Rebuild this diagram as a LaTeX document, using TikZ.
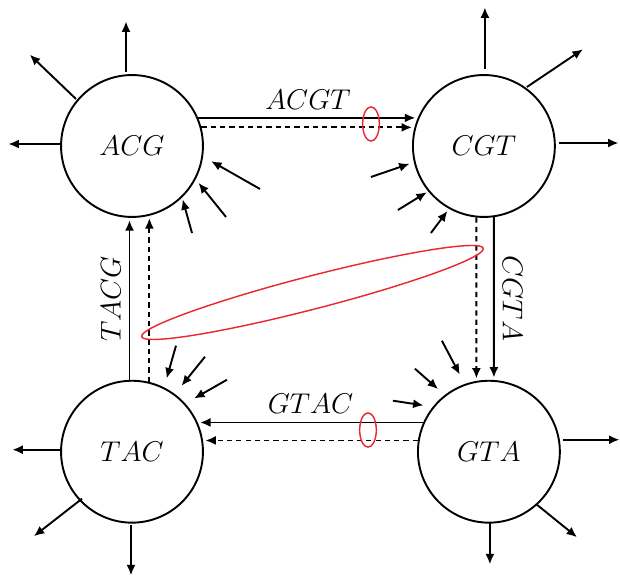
\documentclass[tikz,border=0pt]{standalone}
\usepackage{tikz}
\usetikzlibrary{positioning}
\usetikzlibrary{arrows.meta}
\usetikzlibrary{automata}
\usetikzlibrary{shapes.geometric}

\definecolor{cutred}{RGB}{232,40,48}

\begin{document}
\begin{tikzpicture}[
            x = 0.42pt, y = -0.42pt, % one unit per pixel, y downwards
            > = {Latex[length=4.4pt,width=3.8pt]}, % arrow head style
            shorten > = 1pt, % don't touch arrow head to node
            thick, % line style
            font = \large
            ]

        \tikzstyle{every state}=[
            draw,
            thick,
            fill = white,
            inner sep = 0pt,
            minimum size = 59.6pt
        ]
        \tikzstyle{cut}=[
            draw = cutred,
            ellipse,
            line width = 0.6pt,
            inner sep = 0pt
        ]
        \tikzstyle{back}=[dash pattern = on 2.2pt off 1.7pt]

    \useasboundingbox (0,0) rectangle (620,577);

	% k-mer level
	\node[state] (ACG) at (132,146) {$ACG$};
	\node[state] (CGT) [right = 87.4pt of ACG] {$CGT$};
	\node[state] (TAC) [below = 68pt of ACG] {$TAC$};
	\node[state] (GTA) [right = 89.5pt of TAC] {$GTA$};

	% cycle edges
	\path[->] (ACG.23) edge node[above] {$ACGT$} (CGT.157);
	\path[->,back] (ACG.15) edge node {} (CGT.165);

	\path[->] (CGT.-82) edge node[above, rotate=-90] {$CGTA$} (GTA.86);
	\path[->,back] (CGT.-96) edge node {} (GTA.100);

	\path[->] (GTA.156) edge node[above] {$GTAC$} (TAC.24);
	\path[->,back] (GTA.171) edge node {} (TAC.9);

	\path[->] (TAC.92) edge node[above, rotate=90] {$TACG$} (ACG.-92);
	\path[->,back] (TAC.76) edge node {} (ACG.-76);

	% stubs
	\draw[->] (ACG) ++(-6,-74) -- ++(0,-53);
	\draw[->] (ACG) ++(-56,-47) -- ++(-48,-46);
	\draw[->] (ACG) ++(-70,-2) -- ++(-56,0);
	\draw[->] (ACG) ++(128,43) -- ++(-51,-29);
	\draw[->] (ACG) ++(94,71) -- ++(-29,-36);
	\draw[->] (ACG) ++(60,87) -- ++(-10,-36);

	\draw[->] (CGT) ++(1,-77) -- ++(0,-64);
	\draw[->] (CGT) ++(43,-59) -- ++(58,-39);
	\draw[->] (CGT) ++(75,-3) -- ++(62,0);
	\draw[->] (CGT) ++(-113,31) -- ++(41,-14);
	\draw[->] (CGT) ++(-86,64) -- ++(31,-19);
	\draw[->] (CGT) ++(-53,87) -- ++(18,-24);

	\draw[->] (TAC) ++(-70,-2) -- ++(-52,0);
	\draw[->] (TAC) ++(-50,47) -- ++(-50,39);
	\draw[->] (TAC) ++(-1,73) -- ++(0,53);
	\draw[->] (TAC) ++(44,-106) -- ++(-10,35);
	\draw[->] (TAC) ++(73,-95) -- ++(-25,31);
	\draw[->] (TAC) ++(95,-72) -- ++(-35,20);

	\draw[->] (GTA) ++(74,-12) -- ++(59,0);
	\draw[->] (GTA) ++(48,53) -- ++(42,34);
	\draw[->] (GTA) ++(1,70) -- ++(0,45);
	\draw[->] (GTA) ++(-47,-111) -- ++(19,36);
	\draw[->] (GTA) ++(-74,-83) -- ++(25,22);
	\draw[->] (GTA) ++(-96,-51) -- ++(33,5);

	% cuts
	\node[cut, minimum width=7pt, minimum height=14.4pt] (cutTop) at (371,124) {};
	\node[cut, minimum width=7pt, minimum height=14.4pt] (cutBot) at (368,430) {};
	\node[cut, minimum width=148.2pt, minimum height=13.9pt, rotate=14.5] (cutDiag) at (312.5,292.5) {};

\end{tikzpicture}
\end{document}
